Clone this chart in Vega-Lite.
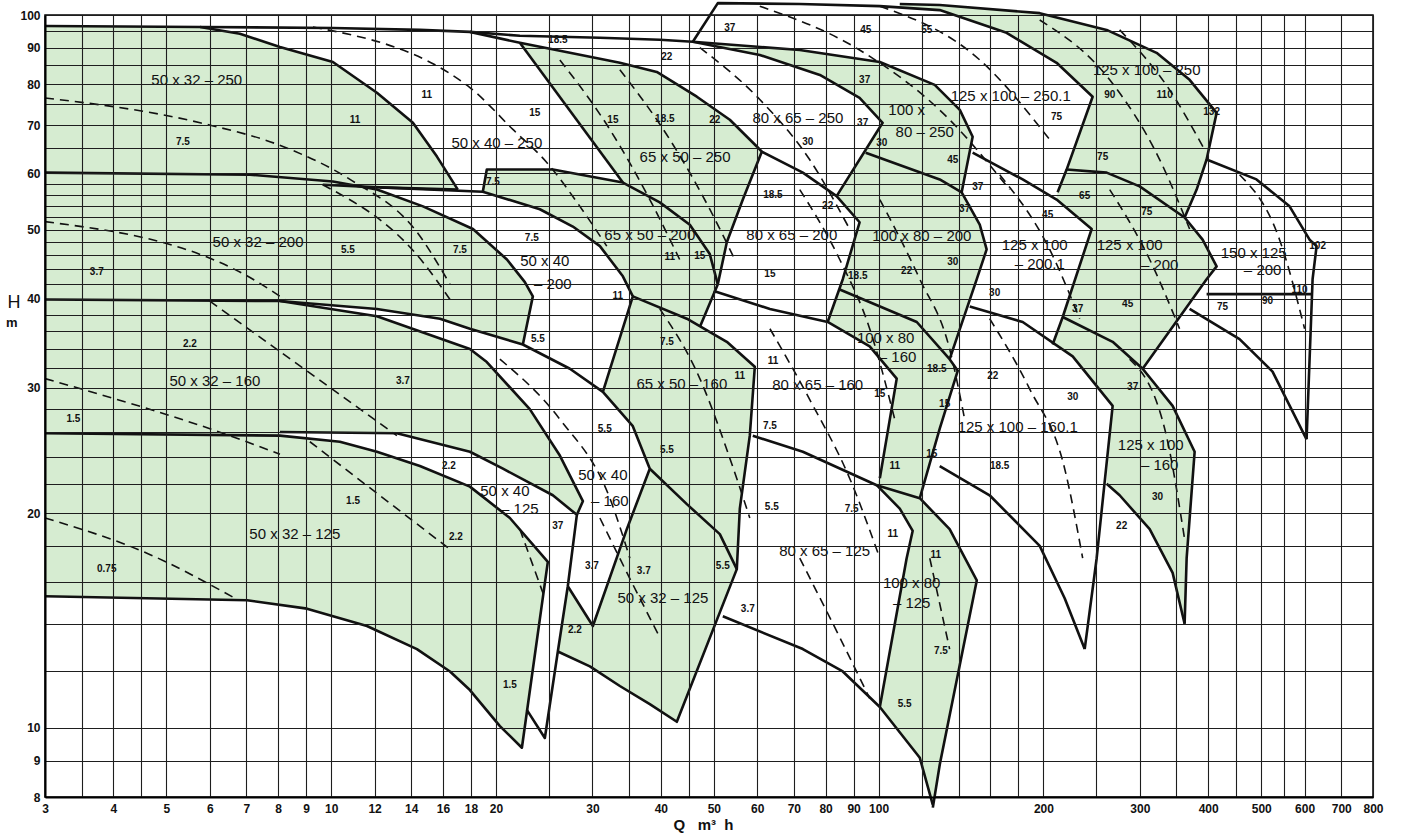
{
  "$schema": "https://vega.github.io/schema/vega-lite/v6.json",
  "width": 1328,
  "height": 782,
  "autosize": {"type": "none"},
  "padding": {"left": 45, "top": 15, "right": 31, "bottom": 42},
  "background": "#ffffff",
  "config": {"view": {"stroke": "#000", "strokeWidth": 1.5}},
  "datasets": {
    "polys": [
      {"id":"A","o":1,"Q":3.00,"H":96.5},{"id":"A","o":2,"Q":5.76,"H":96.2},{"id":"A","o":3,"Q":6.81,"H":94.1},{"id":"A","o":4,"Q":8.06,"H":90.2},{"id":"A","o":5,"Q":10.07,"H":85.9},{"id":"A","o":6,"Q":12.12,"H":77.8},{"id":"A","o":7,"Q":14.10,"H":70.6},{"id":"A","o":8,"Q":15.60,"H":63.3},{"id":"A","o":9,"Q":17.03,"H":56.9},{"id":"A","o":10,"Q":12.27,"H":57.3},{"id":"A","o":11,"Q":12.12,"H":56.9},{"id":"A","o":12,"Q":14.71,"H":53.9},{"id":"A","o":13,"Q":18.15,"H":50.1},{"id":"A","o":14,"Q":20.94,"H":45.4},{"id":"A","o":15,"Q":22.58,"H":42.2},{"id":"A","o":16,"Q":23.35,"H":40.3},{"id":"A","o":17,"Q":22.39,"H":34.5},{"id":"A","o":18,"Q":17.92,"H":36.3},{"id":"A","o":19,"Q":15.80,"H":37.5},{"id":"A","o":20,"Q":12.12,"H":38.7},{"id":"A","o":21,"Q":8.06,"H":39.7},{"id":"A","o":22,"Q":12.12,"H":37.8},{"id":"A","o":23,"Q":17.92,"H":34.0},{"id":"A","o":24,"Q":19.24,"H":32.6},{"id":"A","o":25,"Q":23.05,"H":28.0},{"id":"A","o":26,"Q":26.16,"H":24.1},{"id":"A","o":27,"Q":28.82,"H":20.8},{"id":"A","o":28,"Q":28.10,"H":19.9},{"id":"A","o":29,"Q":25.40,"H":21.2},{"id":"A","o":30,"Q":20.59,"H":23.1},{"id":"A","o":31,"Q":17.92,"H":24.4},{"id":"A","o":32,"Q":13.18,"H":25.9},{"id":"A","o":33,"Q":8.06,"H":26.0},{"id":"A","o":34,"Q":8.06,"H":25.7},{"id":"A","o":35,"Q":10.37,"H":25.2},{"id":"A","o":36,"Q":12.12,"H":24.4},{"id":"A","o":37,"Q":14.52,"H":23.3},{"id":"A","o":38,"Q":17.92,"H":21.8},{"id":"A","o":39,"Q":21.20,"H":19.7},{"id":"A","o":40,"Q":24.87,"H":17.1},{"id":"A","o":41,"Q":22.30,"H":9.38},{"id":"A","o":42,"Q":20.33,"H":10.06},{"id":"A","o":43,"Q":17.92,"H":11.3},{"id":"A","o":44,"Q":16.48,"H":12.0},{"id":"A","o":45,"Q":14.34,"H":12.9},{"id":"A","o":46,"Q":11.62,"H":13.9},{"id":"A","o":47,"Q":9.03,"H":14.7},{"id":"A","o":48,"Q":7.02,"H":15.1},{"id":"A","o":49,"Q":3.00,"H":15.3},
      {"id":"B","o":1,"Q":22.11,"H":91.4},{"id":"B","o":2,"Q":27.29,"H":88.5},{"id":"B","o":3,"Q":33.67,"H":85.7},{"id":"B","o":4,"Q":39.33,"H":83.2},{"id":"B","o":5,"Q":46.55,"H":76.8},{"id":"B","o":6,"Q":53.47,"H":71.3},{"id":"B","o":7,"Q":59.90,"H":65.4},{"id":"B","o":8,"Q":61.17,"H":64.3},{"id":"B","o":9,"Q":56.48,"H":55.1},{"id":"B","o":10,"Q":52.80,"H":48.0},{"id":"B","o":11,"Q":50.84,"H":41.9},{"id":"B","o":12,"Q":47.14,"H":36.5},{"id":"B","o":13,"Q":52.80,"H":34.8},{"id":"B","o":14,"Q":59.40,"H":32.1},{"id":"B","o":15,"Q":58.16,"H":25.7},{"id":"B","o":16,"Q":55.77,"H":20.3},{"id":"B","o":17,"Q":55.07,"H":16.7},{"id":"B","o":18,"Q":42.79,"H":10.2},{"id":"B","o":19,"Q":38.19,"H":10.8},{"id":"B","o":20,"Q":33.67,"H":11.45},{"id":"B","o":21,"Q":29.68,"H":12.2},{"id":"B","o":22,"Q":25.94,"H":12.8},{"id":"B","o":23,"Q":27.05,"H":15.8},{"id":"B","o":24,"Q":30.06,"H":13.9},{"id":"B","o":25,"Q":34.67,"H":19.0},{"id":"B","o":26,"Q":38.19,"H":23.1},{"id":"B","o":27,"Q":35.56,"H":26.5},{"id":"B","o":28,"Q":31.35,"H":29.6},{"id":"B","o":29,"Q":35.56,"H":40.3},{"id":"B","o":30,"Q":34.10,"H":43.0},{"id":"B","o":31,"Q":30.96,"H":47.4},{"id":"B","o":32,"Q":27.63,"H":50.5},{"id":"B","o":33,"Q":24.05,"H":53.4},{"id":"B","o":34,"Q":18.92,"H":56.5},{"id":"B","o":35,"Q":19.24,"H":60.7},{"id":"B","o":36,"Q":25.40,"H":60.7},{"id":"B","o":37,"Q":34.10,"H":58.2},
      {"id":"C","o":1,"Q":45.77,"H":91.7},{"id":"C","o":2,"Q":71.76,"H":89.3},{"id":"C","o":3,"Q":100.5,"H":85.9},{"id":"C","o":4,"Q":126.6,"H":79.8},{"id":"C","o":5,"Q":140.7,"H":73.6},{"id":"C","o":6,"Q":148.5,"H":67.5},{"id":"C","o":7,"Q":141.8,"H":56.4},{"id":"C","o":8,"Q":153.0,"H":50.8},{"id":"C","o":9,"Q":157.5,"H":46.9},{"id":"C","o":10,"Q":151.1,"H":42.6},{"id":"C","o":11,"Q":134.8,"H":32.9},{"id":"C","o":12,"Q":139.5,"H":31.7},{"id":"C","o":13,"Q":129.3,"H":26.3},{"id":"C","o":14,"Q":118.9,"H":21.0},{"id":"C","o":15,"Q":134.8,"H":19.0},{"id":"C","o":16,"Q":151.1,"H":16.1},{"id":"C","o":17,"Q":129.3,"H":8.88},{"id":"C","o":18,"Q":125.6,"H":7.73},{"id":"C","o":19,"Q":118.9,"H":9.08},{"id":"C","o":20,"Q":100.5,"H":10.7},{"id":"C","o":21,"Q":112.5,"H":17.3},{"id":"C","o":22,"Q":115.4,"H":18.9},{"id":"C","o":23,"Q":109.3,"H":20.3},{"id":"C","o":24,"Q":99.2,"H":21.9},{"id":"C","o":25,"Q":100.5,"H":22.4},{"id":"C","o":26,"Q":107.9,"H":30.9},{"id":"C","o":27,"Q":96.3,"H":34.3},{"id":"C","o":28,"Q":80.7,"H":37.1},{"id":"C","o":29,"Q":86.0,"H":42.6},{"id":"C","o":30,"Q":92.3,"H":51.2},{"id":"C","o":31,"Q":83.8,"H":55.7},{"id":"C","o":32,"Q":101.7,"H":70.6},{"id":"C","o":33,"Q":92.3,"H":76.5},{"id":"C","o":34,"Q":78.1,"H":82.4},{"id":"C","o":35,"Q":60.66,"H":87.9},
      {"id":"D","o":1,"Q":109.3,"H":103.6},{"id":"D","o":2,"Q":129.3,"H":103.3},{"id":"D","o":3,"Q":196.9,"H":100.6},{"id":"D","o":4,"Q":260.9,"H":95.3},{"id":"D","o":5,"Q":321.9,"H":88.5},{"id":"D","o":6,"Q":369.9,"H":81.1},{"id":"D","o":7,"Q":414.4,"H":72.9},{"id":"D","o":8,"Q":397.3,"H":62.7},{"id":"D","o":9,"Q":381.0,"H":56.9},{"id":"D","o":10,"Q":362.2,"H":52.0},{"id":"D","o":11,"Q":299.8,"H":57.5},{"id":"D","o":12,"Q":260.9,"H":60.1},{"id":"D","o":13,"Q":220.5,"H":60.7},{"id":"D","o":14,"Q":246.0,"H":76.8},{"id":"D","o":15,"Q":211.4,"H":85.7},{"id":"D","o":16,"Q":171.3,"H":94.4},{"id":"D","o":17,"Q":129.3,"H":101.6},{"id":"D","o":18,"Q":109.3,"H":102.3},
      {"id":"E","o":1,"Q":220.5,"H":60.7},{"id":"E","o":2,"Q":260.9,"H":60.1},{"id":"E","o":3,"Q":299.8,"H":57.5},{"id":"E","o":4,"Q":362.2,"H":52.0},{"id":"E","o":5,"Q":390.7,"H":48.4},{"id":"E","o":6,"Q":414.4,"H":44.4},{"id":"E","o":7,"Q":397.3,"H":42.6},{"id":"E","o":8,"Q":303.6,"H":31.9},{"id":"E","o":9,"Q":267.6,"H":34.8},{"id":"E","o":10,"Q":216.9,"H":37.7},{"id":"E","o":11,"Q":245.0,"H":50.1},{"id":"E","o":12,"Q":211.4,"H":55.1},{"id":"E","o":13,"Q":212.3,"H":56.4},
      {"id":"F","o":1,"Q":216.9,"H":37.7},{"id":"F","o":2,"Q":267.6,"H":34.8},{"id":"F","o":3,"Q":303.6,"H":31.9},{"id":"F","o":4,"Q":344.4,"H":28.3},{"id":"F","o":5,"Q":377.8,"H":24.4},{"id":"F","o":6,"Q":365.3,"H":17.3},{"id":"F","o":7,"Q":362.2,"H":14.0},{"id":"F","o":8,"Q":344.4,"H":16.5},{"id":"F","o":9,"Q":312.7,"H":19.0},{"id":"F","o":10,"Q":275.6,"H":21.2},{"id":"F","o":11,"Q":260.9,"H":22.0},{"id":"F","o":12,"Q":267.6,"H":28.3},{"id":"F","o":13,"Q":226.2,"H":33.2},{"id":"F","o":14,"Q":207.9,"H":34.5}
    ],
    "solid": [
      {"id":"s1","o":1,"Q":3.00,"H":96.5},{"id":"s1","o":2,"Q":5.76,"H":96.2},{"id":"s1","o":3,"Q":6.81,"H":94.1},{"id":"s1","o":4,"Q":8.06,"H":90.2},{"id":"s1","o":5,"Q":10.07,"H":85.9},{"id":"s1","o":6,"Q":12.12,"H":77.8},{"id":"s1","o":7,"Q":14.10,"H":70.6},{"id":"s1","o":8,"Q":15.60,"H":63.3},{"id":"s1","o":9,"Q":17.03,"H":56.9},
      {"id":"s2","o":1,"Q":9.65,"H":57.8},{"id":"s2","o":2,"Q":12.27,"H":57.3},{"id":"s2","o":3,"Q":17.03,"H":56.9},
      {"id":"s3","o":1,"Q":3.0,"H":60.1},{"id":"s3","o":2,"Q":7.10,"H":59.7},{"id":"s3","o":3,"Q":10.07,"H":58.4},{"id":"s3","o":4,"Q":12.12,"H":56.9},{"id":"s3","o":5,"Q":14.71,"H":53.9},{"id":"s3","o":6,"Q":18.15,"H":50.1},{"id":"s3","o":7,"Q":20.94,"H":45.4},{"id":"s3","o":8,"Q":22.58,"H":42.2},{"id":"s3","o":9,"Q":23.35,"H":40.3},{"id":"s3","o":10,"Q":22.39,"H":34.5},
      {"id":"s5","o":1,"Q":3.0,"H":39.9},{"id":"s5","o":2,"Q":8.06,"H":39.7},{"id":"s5","o":3,"Q":12.12,"H":37.8},{"id":"s5","o":4,"Q":17.92,"H":34.0},{"id":"s5","o":5,"Q":19.24,"H":32.6},{"id":"s5","o":6,"Q":23.05,"H":28.0},{"id":"s5","o":7,"Q":26.16,"H":24.1},{"id":"s5","o":8,"Q":28.82,"H":20.8},{"id":"s5","o":9,"Q":28.10,"H":19.9},
      {"id":"s6","o":1,"Q":8.06,"H":39.7},{"id":"s6","o":2,"Q":12.12,"H":38.7},{"id":"s6","o":3,"Q":15.80,"H":37.5},{"id":"s6","o":4,"Q":17.92,"H":36.3},{"id":"s6","o":5,"Q":22.39,"H":34.5},{"id":"s6","o":6,"Q":27.29,"H":31.9},{"id":"s6","o":7,"Q":31.35,"H":29.6},{"id":"s6","o":8,"Q":35.56,"H":26.5},{"id":"s6","o":9,"Q":38.19,"H":23.1},{"id":"s6","o":10,"Q":34.67,"H":19.0},{"id":"s6","o":11,"Q":30.06,"H":13.9},{"id":"s6","o":12,"Q":27.05,"H":15.8},
      {"id":"s10","o":1,"Q":8.06,"H":26.0},{"id":"s10","o":2,"Q":13.18,"H":25.9},{"id":"s10","o":3,"Q":17.92,"H":24.4},{"id":"s10","o":4,"Q":20.59,"H":23.1},{"id":"s10","o":5,"Q":25.40,"H":21.2},{"id":"s10","o":6,"Q":28.10,"H":19.9},{"id":"s10","o":7,"Q":27.05,"H":15.8},{"id":"s10","o":8,"Q":25.94,"H":12.8},{"id":"s10","o":9,"Q":24.56,"H":9.68},{"id":"s10","o":10,"Q":22.77,"H":10.6},
      {"id":"s13","o":1,"Q":3.0,"H":25.9},{"id":"s13","o":2,"Q":8.06,"H":25.7},{"id":"s13","o":3,"Q":10.37,"H":25.2},{"id":"s13","o":4,"Q":12.12,"H":24.4},{"id":"s13","o":5,"Q":14.52,"H":23.3},{"id":"s13","o":6,"Q":17.92,"H":21.8},{"id":"s13","o":7,"Q":21.20,"H":19.7},{"id":"s13","o":8,"Q":24.87,"H":17.1},{"id":"s13","o":9,"Q":22.30,"H":9.38},{"id":"s13","o":10,"Q":20.33,"H":10.06},{"id":"s13","o":11,"Q":17.92,"H":11.3},{"id":"s13","o":12,"Q":16.48,"H":12.0},{"id":"s13","o":13,"Q":14.34,"H":12.9},{"id":"s13","o":14,"Q":11.62,"H":13.9},{"id":"s13","o":15,"Q":9.03,"H":14.7},{"id":"s13","o":16,"Q":7.02,"H":15.1},{"id":"s13","o":17,"Q":3.0,"H":15.3},
      {"id":"s16","o":1,"Q":22.11,"H":91.4},{"id":"s16","o":2,"Q":34.10,"H":58.2},
      {"id":"s17","o":1,"Q":18.92,"H":56.5},{"id":"s17","o":2,"Q":19.24,"H":60.7},{"id":"s17","o":3,"Q":25.40,"H":60.7},{"id":"s17","o":4,"Q":34.10,"H":58.2},{"id":"s17","o":5,"Q":39.83,"H":54.6},{"id":"s17","o":6,"Q":45.19,"H":50.8},{"id":"s17","o":7,"Q":49.15,"H":46.2},{"id":"s17","o":8,"Q":50.84,"H":41.9},{"id":"s17","o":9,"Q":47.14,"H":36.5},
      {"id":"s18","o":1,"Q":12.27,"H":57.3},{"id":"s18","o":2,"Q":18.92,"H":56.5},{"id":"s18","o":3,"Q":24.05,"H":53.4},{"id":"s18","o":4,"Q":27.63,"H":50.5},{"id":"s18","o":5,"Q":30.96,"H":47.4},{"id":"s18","o":6,"Q":34.10,"H":43.0},{"id":"s18","o":7,"Q":35.56,"H":40.3},{"id":"s18","o":8,"Q":31.35,"H":29.6},
      {"id":"s20","o":1,"Q":5.76,"H":96.2},{"id":"s20","o":2,"Q":10.07,"H":95.9},{"id":"s20","o":3,"Q":14.52,"H":95.3},{"id":"s20","o":4,"Q":17.92,"H":94.7},{"id":"s20","o":5,"Q":22.11,"H":91.4},{"id":"s20","o":6,"Q":27.29,"H":88.5},{"id":"s20","o":7,"Q":33.67,"H":85.7},{"id":"s20","o":8,"Q":39.33,"H":83.2},{"id":"s20","o":9,"Q":46.55,"H":76.8},{"id":"s20","o":10,"Q":53.47,"H":71.3},{"id":"s20","o":11,"Q":59.90,"H":65.4},{"id":"s20","o":12,"Q":61.17,"H":64.3},{"id":"s20","o":13,"Q":56.48,"H":55.1},{"id":"s20","o":14,"Q":52.80,"H":48.0},{"id":"s20","o":15,"Q":50.84,"H":41.9},
      {"id":"s22","o":1,"Q":35.56,"H":40.3},{"id":"s22","o":2,"Q":44.63,"H":37.5},{"id":"s22","o":3,"Q":52.80,"H":34.8},{"id":"s22","o":4,"Q":59.40,"H":32.1},{"id":"s22","o":5,"Q":58.16,"H":25.7},{"id":"s22","o":6,"Q":55.77,"H":20.3},{"id":"s22","o":7,"Q":55.07,"H":16.7},{"id":"s22","o":8,"Q":42.79,"H":10.2},{"id":"s22","o":9,"Q":38.19,"H":10.8},{"id":"s22","o":10,"Q":33.67,"H":11.45},{"id":"s22","o":11,"Q":29.68,"H":12.2},{"id":"s22","o":12,"Q":25.94,"H":12.8},
      {"id":"s26","o":1,"Q":38.19,"H":23.1},{"id":"s26","o":2,"Q":44.63,"H":20.6},{"id":"s26","o":3,"Q":51.27,"H":18.7},{"id":"s26","o":4,"Q":55.07,"H":16.7},
      {"id":"s27","o":1,"Q":51.92,"H":14.34},{"id":"s27","o":2,"Q":72.7,"H":12.9},{"id":"s27","o":3,"Q":86.0,"H":12.0},{"id":"s27","o":4,"Q":100.5,"H":10.7},{"id":"s27","o":5,"Q":118.9,"H":9.08},{"id":"s27","o":6,"Q":125.6,"H":7.80},
      {"id":"r1","o":1,"Q":17.92,"H":94.7},{"id":"r1","o":2,"Q":22.11,"H":93.5},{"id":"r1","o":3,"Q":30.96,"H":92.9},{"id":"r1","o":4,"Q":39.83,"H":92.3},{"id":"r1","o":5,"Q":45.77,"H":91.7},{"id":"r1","o":6,"Q":60.66,"H":87.9},{"id":"r1","o":7,"Q":78.1,"H":82.4},{"id":"r1","o":8,"Q":92.3,"H":76.5},{"id":"r1","o":9,"Q":101.7,"H":70.6},{"id":"r1","o":10,"Q":83.8,"H":55.7},
      {"id":"r3","o":1,"Q":61.17,"H":64.3},{"id":"r3","o":2,"Q":72.7,"H":60.1},{"id":"r3","o":3,"Q":83.8,"H":55.7},{"id":"r3","o":4,"Q":92.3,"H":51.2},{"id":"r3","o":5,"Q":86.0,"H":42.6},{"id":"r3","o":6,"Q":80.7,"H":37.1},
      {"id":"r5","o":1,"Q":49.98,"H":41.0},{"id":"r5","o":2,"Q":63.3,"H":38.7},{"id":"r5","o":3,"Q":80.7,"H":37.1},{"id":"r5","o":4,"Q":96.3,"H":34.3},{"id":"r5","o":5,"Q":107.9,"H":30.9},{"id":"r5","o":6,"Q":100.5,"H":22.4},
      {"id":"r7","o":1,"Q":58.9,"H":25.7},{"id":"r7","o":2,"Q":72.7,"H":24.4},{"id":"r7","o":3,"Q":99.2,"H":21.9},{"id":"r7","o":4,"Q":109.3,"H":20.3},{"id":"r7","o":5,"Q":115.4,"H":18.9},{"id":"r7","o":6,"Q":112.5,"H":17.3},{"id":"r7","o":7,"Q":100.5,"H":10.7},
      {"id":"r10","o":1,"Q":45.77,"H":91.7},{"id":"r10","o":2,"Q":71.76,"H":89.3},{"id":"r10","o":3,"Q":100.5,"H":85.9},{"id":"r10","o":4,"Q":126.6,"H":79.8},{"id":"r10","o":5,"Q":140.7,"H":73.6},{"id":"r10","o":6,"Q":148.5,"H":67.5},{"id":"r10","o":7,"Q":141.8,"H":56.4},
      {"id":"r11","o":1,"Q":45.77,"H":91.7},{"id":"r11","o":2,"Q":50.84,"H":103.9},{"id":"r11","o":3,"Q":71.76,"H":103.6},{"id":"r11","o":4,"Q":100.5,"H":102.9},{"id":"r11","o":5,"Q":129.3,"H":101.6},{"id":"r11","o":6,"Q":171.3,"H":94.4},{"id":"r11","o":7,"Q":211.4,"H":85.7},{"id":"r11","o":8,"Q":246.0,"H":76.8},{"id":"r11","o":9,"Q":220.5,"H":60.7},{"id":"r11","o":10,"Q":212.3,"H":56.4},
      {"id":"r12","o":1,"Q":94.7,"H":64.1},{"id":"r12","o":2,"Q":129.3,"H":58.8},{"id":"r12","o":3,"Q":141.8,"H":56.4},{"id":"r12","o":4,"Q":153.0,"H":50.8},{"id":"r12","o":5,"Q":157.5,"H":46.9},{"id":"r12","o":6,"Q":151.1,"H":42.6},{"id":"r12","o":7,"Q":134.8,"H":32.9},
      {"id":"r13","o":1,"Q":84.9,"H":41.2},{"id":"r13","o":2,"Q":117.4,"H":37.1},{"id":"r13","o":3,"Q":134.8,"H":32.9},{"id":"r13","o":4,"Q":139.5,"H":31.7},{"id":"r13","o":5,"Q":129.3,"H":26.3},{"id":"r13","o":6,"Q":118.9,"H":21.0},
      {"id":"r14","o":1,"Q":99.2,"H":21.9},{"id":"r14","o":2,"Q":118.9,"H":21.0},{"id":"r14","o":3,"Q":134.8,"H":19.0},{"id":"r14","o":4,"Q":151.1,"H":16.1},{"id":"r14","o":5,"Q":129.3,"H":8.88},{"id":"r14","o":6,"Q":125.6,"H":7.73},
      {"id":"r15","o":1,"Q":148.5,"H":64.1},{"id":"r15","o":2,"Q":183.3,"H":58.8},{"id":"r15","o":3,"Q":211.4,"H":55.1},{"id":"r15","o":4,"Q":245.0,"H":50.1},{"id":"r15","o":5,"Q":216.9,"H":37.7},{"id":"r15","o":6,"Q":207.9,"H":34.5},
      {"id":"r16","o":1,"Q":109.3,"H":103.6},{"id":"r16","o":2,"Q":129.3,"H":103.3},{"id":"r16","o":3,"Q":196.9,"H":100.6},{"id":"r16","o":4,"Q":260.9,"H":95.3},{"id":"r16","o":5,"Q":321.9,"H":88.5},{"id":"r16","o":6,"Q":369.9,"H":81.1},{"id":"r16","o":7,"Q":414.4,"H":72.9},{"id":"r16","o":8,"Q":397.3,"H":62.7},{"id":"r16","o":9,"Q":381.0,"H":56.9},{"id":"r16","o":10,"Q":362.2,"H":52.0},
      {"id":"r17","o":1,"Q":220.5,"H":60.7},{"id":"r17","o":2,"Q":260.9,"H":60.1},{"id":"r17","o":3,"Q":299.8,"H":57.5},{"id":"r17","o":4,"Q":362.2,"H":52.0},{"id":"r17","o":5,"Q":390.7,"H":48.4},{"id":"r17","o":6,"Q":414.4,"H":44.4},{"id":"r17","o":7,"Q":397.3,"H":42.6},{"id":"r17","o":8,"Q":303.6,"H":31.9},
      {"id":"r18","o":1,"Q":216.9,"H":37.7},{"id":"r18","o":2,"Q":267.6,"H":34.8},{"id":"r18","o":3,"Q":303.6,"H":31.9},{"id":"r18","o":4,"Q":344.4,"H":28.3},{"id":"r18","o":5,"Q":377.8,"H":24.4},{"id":"r18","o":6,"Q":365.3,"H":17.3},{"id":"r18","o":7,"Q":362.2,"H":14.0},
      {"id":"r19","o":1,"Q":260.9,"H":22.0},{"id":"r19","o":2,"Q":275.6,"H":21.2},{"id":"r19","o":3,"Q":312.7,"H":19.0},{"id":"r19","o":4,"Q":344.4,"H":16.5},{"id":"r19","o":5,"Q":362.2,"H":14.0},
      {"id":"r20","o":1,"Q":146.7,"H":39.0},{"id":"r20","o":2,"Q":183.3,"H":37.1},{"id":"r20","o":3,"Q":226.2,"H":33.2},{"id":"r20","o":4,"Q":267.6,"H":28.3},{"id":"r20","o":5,"Q":250.2,"H":17.3},{"id":"r20","o":6,"Q":237.9,"H":12.9},
      {"id":"r21","o":1,"Q":129.3,"H":23.3},{"id":"r21","o":2,"Q":159.5,"H":21.2},{"id":"r21","o":3,"Q":196.9,"H":18.0},{"id":"r21","o":4,"Q":218.7,"H":15.2},{"id":"r21","o":5,"Q":237.9,"H":12.9},
      {"id":"r22","o":1,"Q":397.3,"H":62.7},{"id":"r22","o":2,"Q":490.1,"H":58.8},{"id":"r22","o":3,"Q":563.2,"H":53.9},{"id":"r22","o":4,"Q":612.7,"H":48.4},{"id":"r22","o":5,"Q":631.0,"H":47.4},{"id":"r22","o":6,"Q":620.5,"H":42.6},{"id":"r22","o":7,"Q":605.0,"H":25.4},
      {"id":"r23","o":1,"Q":369.9,"H":38.7},{"id":"r23","o":2,"Q":456.4,"H":35.1},{"id":"r23","o":3,"Q":524.3,"H":31.6},{"id":"r23","o":4,"Q":605.0,"H":25.4},
      {"id":"r24","o":1,"Q":397.3,"H":40.6},{"id":"r24","o":2,"Q":620.5,"H":40.6}
    ],
    "dashed": [
      {"id":"a","o":1,"Q":3.0,"H":76.5},{"id":"a","o":2,"Q":5.76,"H":70.6},{"id":"a","o":3,"Q":8.16,"H":65.4},{"id":"a","o":4,"Q":10.82,"H":58.8},{"id":"a","o":5,"Q":14.34,"H":49.6},{"id":"a","o":6,"Q":16.48,"H":41.9},
      {"id":"b","o":1,"Q":9.26,"H":96.2},{"id":"b","o":2,"Q":17.92,"H":79.1},{"id":"b","o":3,"Q":21.47,"H":69.1},{"id":"b","o":4,"Q":24.76,"H":62.1},{"id":"b","o":5,"Q":28.46,"H":53.9},{"id":"b","o":6,"Q":31.87,"H":47.4},
      {"id":"c","o":1,"Q":3.0,"H":51.3},{"id":"c","o":2,"Q":6.81,"H":43.6},{"id":"c","o":3,"Q":8.23,"H":39.9},
      {"id":"d","o":1,"Q":9.65,"H":57.8},{"id":"d","o":2,"Q":14.71,"H":45.0},{"id":"d","o":3,"Q":16.48,"H":39.9},
      {"id":"e","o":1,"Q":6.0,"H":39.7},{"id":"e","o":2,"Q":13.18,"H":25.7},
      {"id":"f","o":1,"Q":3.0,"H":30.9},{"id":"f","o":2,"Q":6.81,"H":25.4},{"id":"f","o":3,"Q":8.06,"H":24.2},
      {"id":"g","o":1,"Q":9.14,"H":25.2},{"id":"g","o":2,"Q":16.33,"H":17.9},
      {"id":"h","o":1,"Q":3.0,"H":19.7},{"id":"h","o":2,"Q":4.67,"H":17.5},{"id":"h","o":3,"Q":6.67,"H":15.2},
      {"id":"dB","o":1,"Q":26.16,"H":86.5},{"id":"dB","o":2,"Q":32.28,"H":69.1},{"id":"dB","o":3,"Q":38.19,"H":55.1},{"id":"dB","o":4,"Q":43.3,"H":45.4},
      {"id":"dC","o":1,"Q":33.67,"H":83.8},{"id":"dC","o":2,"Q":41.54,"H":66.9},{"id":"dC","o":3,"Q":49.15,"H":53.4},{"id":"dC","o":4,"Q":54.6,"H":45.4},
      {"id":"dD","o":1,"Q":47.14,"H":90.0},{"id":"dD","o":2,"Q":60.66,"H":76.1},{"id":"dD","o":3,"Q":74.8,"H":62.7},{"id":"dD","o":4,"Q":88.5,"H":50.1},
      {"id":"dE","o":1,"Q":60.66,"H":102.9},{"id":"dE","o":2,"Q":92.3,"H":89.3},{"id":"dE","o":3,"Q":134.8,"H":71.3},{"id":"dE","o":4,"Q":173.5,"H":56.9},
      {"id":"dF","o":1,"Q":100.5,"H":102.9},{"id":"dF","o":2,"Q":153.0,"H":86.5},{"id":"dF","o":3,"Q":205.3,"H":66.9},
      {"id":"dG","o":1,"Q":196.9,"H":98.4},{"id":"dG","o":2,"Q":264.3,"H":81.1},{"id":"dG","o":3,"Q":326.1,"H":62.7},{"id":"dG","o":4,"Q":369.9,"H":50.1},
      {"id":"dH","o":1,"Q":275.6,"H":95.3},{"id":"dH","o":2,"Q":340.1,"H":78.5},{"id":"dH","o":3,"Q":394.0,"H":64.7},
      {"id":"dI","o":1,"Q":166.4,"H":59.7},{"id":"dI","o":2,"Q":205.3,"H":46.9},{"id":"dI","o":3,"Q":232.9,"H":37.5},
      {"id":"dJ","o":1,"Q":264.3,"H":56.9},{"id":"dJ","o":2,"Q":312.7,"H":45.4},{"id":"dJ","o":3,"Q":354.6,"H":36.3},
      {"id":"dK","o":1,"Q":456.4,"H":59.7},{"id":"dK","o":2,"Q":540.0,"H":48.4},{"id":"dK","o":3,"Q":600.0,"H":36.3},
      {"id":"dL","o":1,"Q":159.5,"H":37.5},{"id":"dL","o":2,"Q":188.7,"H":29.9},{"id":"dL","o":3,"Q":218.7,"H":23.1},{"id":"dL","o":4,"Q":235.9,"H":17.3},
      {"id":"dM","o":1,"Q":287.4,"H":32.9},{"id":"dM","o":2,"Q":333.0,"H":26.3},{"id":"dM","o":3,"Q":362.2,"H":18.4},
      {"id":"dN","o":1,"Q":100.5,"H":55.1},{"id":"dN","o":2,"Q":118.9,"H":42.6},{"id":"dN","o":3,"Q":134.8,"H":34.0},{"id":"dN","o":4,"Q":143.6,"H":27.1},
      {"id":"dO","o":1,"Q":71.76,"H":56.9},{"id":"dO","o":2,"Q":84.9,"H":45.4},{"id":"dO","o":3,"Q":96.3,"H":36.3},{"id":"dO","o":4,"Q":107.0,"H":27.1},
      {"id":"dP","o":1,"Q":63.3,"H":36.3},{"id":"dP","o":2,"Q":74.8,"H":28.9},{"id":"dP","o":3,"Q":88.5,"H":22.4},{"id":"dP","o":4,"Q":100.5,"H":17.3},
      {"id":"dQ","o":1,"Q":39.83,"H":38.7},{"id":"dQ","o":2,"Q":47.14,"H":30.9},{"id":"dQ","o":3,"Q":53.47,"H":23.9},{"id":"dQ","o":4,"Q":58.16,"H":19.7},
      {"id":"dR","o":1,"Q":30.96,"H":19.7},{"id":"dR","o":2,"Q":35.12,"H":16.2},{"id":"dR","o":3,"Q":39.83,"H":13.4},
      {"id":"dS","o":1,"Q":71.76,"H":17.3},{"id":"dS","o":2,"Q":84.9,"H":13.4},{"id":"dS","o":3,"Q":96.3,"H":11.0},
      {"id":"dT","o":1,"Q":124.0,"H":17.3},{"id":"dT","o":2,"Q":134.8,"H":12.9},
      {"id":"dU","o":1,"Q":20.33,"H":32.9},{"id":"dU","o":2,"Q":26.16,"H":27.1},{"id":"dU","o":3,"Q":32.28,"H":21.0},{"id":"dU","o":4,"Q":35.12,"H":17.3},
      {"id":"dV","o":1,"Q":22.11,"H":19.0},{"id":"dV","o":2,"Q":24.56,"H":15.2}
    ],
    "names": [
      {"t":"50 x 32 – 250","Q":5.68,"H":81.1},{"t":"50 x 32 – 200","Q":7.35,"H":48.0},{"t":"50 x 32 – 160","Q":6.13,"H":30.7},{"t":"50 x 32 – 125","Q":8.58,"H":18.7},
      {"t":"50 x 40 – 250","Q":20.07,"H":66.2},{"t":"50 x 40","Q":24.56,"H":45.2},{"t":"– 200","Q":25.40,"H":41.9},{"t":"50 x 40","Q":31.35,"H":22.6},{"t":"– 160","Q":32.28,"H":20.8},{"t":"50 x 40","Q":20.76,"H":21.5},{"t":"– 125","Q":22.11,"H":20.3},
      {"t":"65 x 50 – 250","Q":44.3,"H":63.3},{"t":"65 x 50 – 200","Q":38.19,"H":49.2},{"t":"65 x 50 – 160","Q":43.7,"H":30.4},{"t":"50 x 32 – 125","Q":40.35,"H":15.2},
      {"t":"80 x 65 – 250","Q":71.2,"H":71.8},{"t":"80 x 65 – 200","Q":69.4,"H":49.2},{"t":"80 x 65 – 160","Q":77.4,"H":30.3},{"t":"80 x 65 – 125","Q":79.7,"H":17.7},
      {"t":"100 x","Q":112.5,"H":73.6},{"t":"80 – 250","Q":121.4,"H":68.6},{"t":"100 x 80 – 200","Q":119.9,"H":49.0},{"t":"100 x 80","Q":103.0,"H":35.2},{"t":"– 160","Q":108.3,"H":33.1},{"t":"100 x 80","Q":114.9,"H":15.95},{"t":"– 125","Q":114.9,"H":14.96},
      {"t":"125 x 100 – 250.1","Q":174.3,"H":77.0},{"t":"125 x 100 – 250","Q":308.8,"H":83.8},{"t":"125 x 100","Q":192.8,"H":47.5},{"t":"– 200.1","Q":196.9,"H":44.7},{"t":"125 x 100","Q":287.4,"H":47.5},{"t":"– 200","Q":326.1,"H":44.6},
      {"t":"150 x 125","Q":484.2,"H":46.3},{"t":"– 200","Q":502.9,"H":43.9},{"t":"125 x 100 – 160.1","Q":179.5,"H":26.4},{"t":"125 x 100","Q":314.1,"H":24.9},{"t":"– 160","Q":326.1,"H":23.4}
    ],
    "kw": [
      {"t":"11","Q":14.95,"H":77.3},{"t":"11","Q":11.05,"H":71.3},{"t":"7.5","Q":5.36,"H":66.4},{"t":"5.5","Q":10.73,"H":46.8},{"t":"7.5","Q":17.18,"H":46.8},{"t":"3.7","Q":3.73,"H":43.6},{"t":"2.2","Q":5.52,"H":34.5},{"t":"3.7","Q":13.52,"H":30.7},{"t":"1.5","Q":3.38,"H":27.1},{"t":"2.2","Q":16.40,"H":23.3},{"t":"1.5","Q":10.96,"H":20.8},{"t":"2.2","Q":16.89,"H":18.5},{"t":"0.75","Q":3.89,"H":16.7},
      {"t":"37","Q":25.94,"H":19.2},{"t":"3.7","Q":29.93,"H":16.85},{"t":"3.7","Q":37.24,"H":16.6},{"t":"5.5","Q":51.92,"H":16.85},{"t":"3.7","Q":57.67,"H":14.7},{"t":"2.2","Q":27.87,"H":13.7},{"t":"1.5","Q":21.20,"H":11.5},{"t":"5.5","Q":111.6,"H":10.8},
      {"t":"7.5","Q":19.74,"H":58.4},{"t":"7.5","Q":23.25,"H":48.6},{"t":"5.5","Q":23.85,"H":35.1},{"t":"11","Q":33.39,"H":40.3},{"t":"7.5","Q":41.03,"H":34.8},{"t":"11","Q":55.77,"H":31.2},{"t":"5.5","Q":31.6,"H":26.3},{"t":"5.5","Q":41.03,"H":24.5},
      {"t":"18.5","Q":25.94,"H":92.3},{"t":"22","Q":41.03,"H":87.3},{"t":"37","Q":53.47,"H":95.9},{"t":"45","Q":94.7,"H":95.3},{"t":"55","Q":122.4,"H":95.3},{"t":"15","Q":23.55,"H":72.9},{"t":"15","Q":32.7,"H":71.3},{"t":"18.5","Q":40.68,"H":71.5},{"t":"22","Q":50.19,"H":71.3},
      {"t":"37","Q":94.3,"H":81.1},{"t":"37","Q":93.5,"H":70.6},{"t":"30","Q":74.2,"H":66.4},{"t":"30","Q":101.3,"H":66.2},{"t":"18.5","Q":64.1,"H":56.0},{"t":"22","Q":80.7,"H":53.9},{"t":"11","Q":41.54,"H":45.7},{"t":"15","Q":47.14,"H":45.9},{"t":"15","Q":63.3,"H":43.3},{"t":"18.5","Q":91.6,"H":43.0},{"t":"22","Q":112.5,"H":43.7},
      {"t":"11","Q":64.1,"H":32.7},{"t":"15","Q":100.5,"H":29.4},{"t":"15","Q":132.0,"H":28.5},{"t":"7.5","Q":63.3,"H":26.5},{"t":"11","Q":107.0,"H":23.3},{"t":"15","Q":125.0,"H":24.2},{"t":"5.5","Q":63.8,"H":20.4},{"t":"7.5","Q":89.3,"H":20.3},{"t":"11","Q":106.1,"H":18.7},{"t":"11","Q":127.2,"H":17.5},{"t":"7.5","Q":129.9,"H":12.8},
      {"t":"90","Q":264.3,"H":77.3},{"t":"110","Q":333.0,"H":77.3},{"t":"132","Q":405.8,"H":73.2},{"t":"75","Q":211.4,"H":72.0},{"t":"75","Q":256.6,"H":63.3},{"t":"45","Q":136.6,"H":62.7},{"t":"37","Q":151.7,"H":57.3},{"t":"37","Q":143.6,"H":53.4},{"t":"65","Q":237.9,"H":55.7},{"t":"75","Q":308.8,"H":53.0},{"t":"45","Q":203.6,"H":52.5},{"t":"30","Q":136.6,"H":45.1},{"t":"102","Q":633.8,"H":47.4},
      {"t":"30","Q":162.9,"H":40.8},{"t":"37","Q":231.0,"H":38.7},{"t":"45","Q":285.0,"H":39.3},{"t":"75","Q":425.0,"H":39.0},{"t":"90","Q":513.5,"H":39.7},{"t":"110","Q":587.5,"H":41.2},{"t":"22","Q":161.6,"H":31.2},{"t":"30","Q":226.2,"H":29.1},{"t":"37","Q":291.1,"H":30.1},{"t":"18.5","Q":166.4,"H":23.3},{"t":"30","Q":323.3,"H":21.1},{"t":"22","Q":277.9,"H":19.2},{"t":"18.5","Q":127.7,"H":31.9}
    ],
    "axt": [{"t":"m","Q":2.61,"H":37.0}]
  },
  "encoding": {
    "x": {"field":"Q","type":"quantitative","scale":{"type":"log","domain":[3,800],"nice":false,"zero":false},
      "axis":{"title":"Q\u00a0\u00a0\u00a0m³\u00a0\u00a0h","values":[3,3.5,4,4.5,5,6,7,8,9,10,12,14,16,18,20,25,30,35,40,45,50,60,70,80,90,100,120,140,160,180,200,250,300,350,400,450,500,550,600,700,800],
        "labelExpr":"indexof([3,4,5,6,7,8,9,10,12,14,16,18,20,30,40,50,60,70,80,90,100,200,300,400,500,600,700,800], datum.value) >= 0 ? datum.label : ''",
        "format":"~g","grid":true,"gridColor":"#1e1e1e","gridWidth":1.1,"ticks":false,"domainColor":"#000","domainWidth":2,
        "labelFont":"Liberation Sans","labelFontSize":12,"labelFontWeight":"bold","labelColor":"#111","labelPadding":6,"labelOverlap":false,"labelFlush":false,"labelBound":false,
        "titleFont":"Liberation Sans","titleFontSize":15,"titleFontWeight":"bold","titleColor":"#111","titleX":658,"titleY":27,"titleAlign":"center","titleBaseline":"middle","zindex":1}},
    "y": {"field":"H","type":"quantitative","scale":{"type":"log","domain":[8,100],"nice":false,"zero":false},
      "axis":{"title":"H","values":[8,9,10,12,14,16,18,20,22,24,26,28,30,32,34,36,38,40,42,44,46,48,50,52,54,56,58,60,65,70,75,80,85,90,95,100],
        "labelExpr":"indexof([8,9,10,20,30,40,50,60,70,80,90,100], datum.value) >= 0 ? datum.label : ''",
        "format":"~g","grid":true,"gridColor":"#1e1e1e","gridWidth":1.1,"ticks":false,"domainColor":"#000","domainWidth":2,
        "labelFont":"Liberation Sans","labelFontSize":12,"labelFontWeight":"bold","labelColor":"#111","labelPadding":5,"labelOverlap":false,"labelFlush":false,"labelBound":false,
        "titleFont":"Liberation Sans","titleFontSize":18,"titleFontWeight":"normal","titleColor":"#111","titleAngle":0,"titleX":-38,"titleY":287,"titleAlign":"left","titleBaseline":"middle","zindex":1}}
  },
  "layer": [
    {"data":{"name":"polys"},"mark":{"type":"line","fill":"#d6ecd1","stroke":"#d6ecd1","strokeWidth":0.5,"interpolate":"linear"},
     "encoding":{"detail":{"field":"id"},"order":{"field":"o","type":"quantitative"}}},
    {"data":{"name":"dashed"},"mark":{"type":"line","stroke":"#111","strokeWidth":1.6,"strokeDash":[9,6],"interpolate":"monotone"},
     "encoding":{"detail":{"field":"id"},"order":{"field":"o","type":"quantitative"}}},
    {"data":{"name":"solid"},"mark":{"type":"line","stroke":"#111","strokeWidth":2.6,"strokeJoin":"round"},
     "encoding":{"detail":{"field":"id"},"order":{"field":"o","type":"quantitative"}}},
    {"data":{"name":"names"},"mark":{"type":"text","font":"Liberation Sans","fontSize":15,"fill":"#111","align":"center","baseline":"middle"},
     "encoding":{"text":{"field":"t"}}},
    {"data":{"name":"kw"},"mark":{"type":"text","font":"Liberation Sans","fontSize":10,"fontWeight":"bold","fill":"#111","align":"center","baseline":"middle"},
     "encoding":{"text":{"field":"t"}}},
    {"data":{"name":"axt"},"mark":{"type":"text","font":"Liberation Sans","fontSize":13,"fontWeight":"bold","fill":"#111","align":"center","baseline":"middle"},
     "encoding":{"text":{"field":"t"}}}
  ]
}
